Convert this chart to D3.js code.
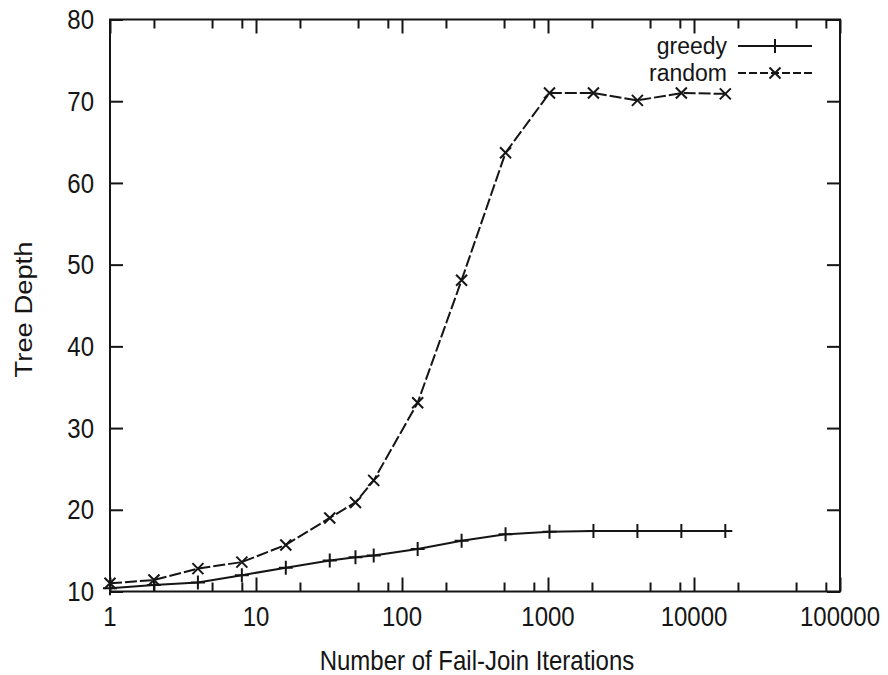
<!DOCTYPE html>
<html>
<head>
<meta charset="utf-8">
<script src="https://cdn.jsdelivr.net/npm/d3@7"></script>
<style>
  html, body { margin: 0; padding: 0; background: #fff; }
  svg { display: block; }
  text { font-family: "Liberation Sans", Arial, Helvetica, sans-serif; fill: #151515; }
</style>
</head>
<body>
<svg id="chart" width="888" height="675"></svg>
<script>
// Iteration counts (log-scaled x axis)
const iterations = [1, 2, 4, 8, 16, 32, 48, 64, 128, 256, 512, 1024, 2048, 4096, 8192, 16384];
// Tree depth for each join strategy
const greedyDepth = [10.4, 10.8, 11.1, 12.0, 12.9, 13.8, 14.2, 14.4, 15.2, 16.2, 17.0, 17.3, 17.4, 17.4, 17.4, 17.4];
const randomDepth = [11.0, 11.4, 12.8, 13.6, 15.7, 19.0, 20.9, 23.6, 33.1, 48.1, 63.7, 71.0, 71.0, 70.1, 71.0, 70.9];

const seriesNames = ["greedy", "random"];
const xMajorTicks = [1, 10, 100, 1000, 10000, 100000];
const xMinorTicks = [2, 5, 8, 20, 50, 80, 200, 500, 800, 2000, 5000, 8000, 20000, 50000, 80000];
const yTicks = [10, 20, 30, 40, 50, 60, 70, 80];
const xTitle = "Number of Fail-Join Iterations";
const yTitle = "Tree Depth";

const plot = { left: 110, right: 840, top: 19.5, bottom: 591.5 };
const stretch = 1.14;
const ink = "#151515";

const svg = d3.select("#chart");

const x = d3.scaleLog().domain([1, 100000]).range([plot.left, plot.right]);
const y = d3.scaleLinear().domain([10, 80]).range([plot.bottom, plot.top]);

function styleAxis(g) {
  g.select(".domain").remove();
  g.selectAll(".tick line").attr("stroke", ink).attr("stroke-width", 2);
  g.selectAll(".tick text").remove();
}

// Bottom and top x ticks (major and minor), pointing into the plot
svg.append("g").attr("transform", `translate(0,${plot.bottom})`)
  .call(d3.axisBottom(x).tickValues(xMajorTicks).tickSize(-14).tickFormat(""))
  .call(styleAxis);
svg.append("g").attr("transform", `translate(0,${plot.bottom})`)
  .call(d3.axisBottom(x).tickValues(xMinorTicks).tickSize(-9).tickFormat(""))
  .call(styleAxis);
svg.append("g").attr("transform", `translate(0,${plot.top})`)
  .call(d3.axisTop(x).tickValues(xMajorTicks).tickSize(-14).tickFormat(""))
  .call(styleAxis);
svg.append("g").attr("transform", `translate(0,${plot.top})`)
  .call(d3.axisTop(x).tickValues(xMinorTicks).tickSize(-9).tickFormat(""))
  .call(styleAxis);

// Left and right y ticks
svg.append("g").attr("transform", `translate(${plot.left},0)`)
  .call(d3.axisLeft(y).tickValues(yTicks).tickSize(-13).tickFormat(""))
  .call(styleAxis);
svg.append("g").attr("transform", `translate(${plot.right},0)`)
  .call(d3.axisRight(y).tickValues(yTicks).tickSize(-13).tickFormat(""))
  .call(styleAxis);

// Plot frame
svg.append("rect")
  .attr("x", plot.left).attr("y", plot.top)
  .attr("width", plot.right - plot.left).attr("height", plot.bottom - plot.top)
  .attr("fill", "none").attr("stroke", ink).attr("stroke-width", 2);

// Text helper: slightly tall letterforms
function label(px, py, str, anchor, size, sy) {
  return svg.append("text")
    .attr("transform", `translate(${px},${py}) scale(1,${sy})`)
    .attr("text-anchor", anchor)
    .attr("dy", "0.35em")
    .attr("font-size", size)
    .text(str);
}

yTicks.forEach(v => label(plot.left - 16, y(v), String(v), "end", 24, stretch));
xMajorTicks.forEach(v => label(x(v), 616, String(v), "middle", 24, stretch));
label((plot.left + plot.right) / 2 + 2, 660, xTitle, "middle", 24, stretch);
svg.append("text")
  .attr("transform", `translate(32,${(plot.top + plot.bottom) / 2 + 4}) scale(1,${stretch}) rotate(-90)`)
  .attr("text-anchor", "middle")
  .attr("font-size", 24)
  .text(yTitle);

// Markers
function plusPath(cx, cy, r) {
  return `M${cx - r},${cy}H${cx + r}M${cx},${cy - r}V${cy + r}`;
}
function crossPath(cx, cy, r) {
  return `M${cx - r},${cy - r}L${cx + r},${cy + r}M${cx - r},${cy + r}L${cx + r},${cy - r}`;
}

const line = d3.line().x(d => x(d[0])).y(d => y(d[1]));

const series = [
  { name: seriesNames[0], values: greedyDepth, dash: null, marker: plusPath, r: 7 },
  { name: seriesNames[1], values: randomDepth, dash: "12,3", marker: crossPath, r: 5.5 }
];

series.forEach((s, i) => {
  const pts = iterations.map((it, k) => [it, s.values[k]]);
  svg.append("path")
    .attr("d", line(pts))
    .attr("fill", "none")
    .attr("stroke", ink)
    .attr("stroke-width", 2)
    .attr("stroke-dasharray", s.dash);
  svg.append("path")
    .attr("d", pts.map(p => s.marker(x(p[0]), y(p[1]), s.r)).join(""))
    .attr("fill", "none")
    .attr("stroke", ink)
    .attr("stroke-width", 2);

  // Legend entry
  const ly = 46 + i * 27;
  label(727, ly, s.name, "end", 23, 1.04);
  svg.append("line")
    .attr("x1", 738).attr("x2", 812).attr("y1", ly).attr("y2", ly)
    .attr("stroke", ink).attr("stroke-width", 2)
    .attr("stroke-dasharray", s.dash ? "8,3" : null);
  svg.append("path")
    .attr("d", s.marker(775, ly, s.r))
    .attr("fill", "none").attr("stroke", ink).attr("stroke-width", 2);
});
</script>
</body>
</html>
